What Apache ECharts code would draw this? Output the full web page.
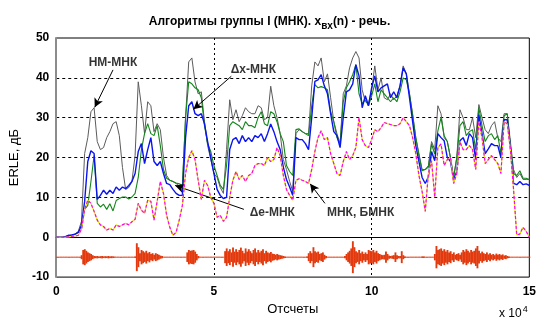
<!DOCTYPE html>
<html>
<head>
<meta charset="utf-8">
<script src="https://cdn.jsdelivr.net/npm/echarts@6/dist/echarts.min.js"></script>
<style>
  html, body { margin: 0; padding: 0; background: #fff; }
  #chart { width: 539px; height: 321px; }
</style>
</head>
<body>
<div id="chart"></div>
<script>
// ERLE curves, dB, sampled every 0.1 (x 10^4 samples)
const curveStep = 0.1;

// НМ-МНК
const nmMnk = [
  0, 0, 0, 0.2, 0.4, 0.6, 0.8, 1.5, 4, 21,
  25, 31.5, 32.5, 24, 22, 22.5, 25, 26.5, 28.5, 29,
  25.5, 17.5, 12, 12.5, 14, 20.5, 39, 33, 26, 34,
  33, 26.5, 28.5, 27, 20, 15.5, 14.3, 14, 13.5, 12.8,
  12.5, 30, 44, 45, 39, 36, 36.5, 29, 23, 19.5,
  16, 15, 12.5, 11, 22, 34.5, 29.5, 32, 29, 30.5,
  32.5, 31.5, 31, 31, 33, 32.5, 29.5, 30, 37.9, 33,
  30, 26, 19.5, 17, 14, 11.5, 26, 27, 26.5, 26,
  26, 38, 44, 43, 45, 39, 41, 35, 29, 26,
  23.5, 36, 38, 42.5, 45, 46.6, 45, 37, 34, 33.5,
  37, 43, 37, 40, 35, 34.5, 36, 34.5, 35.5, 38,
  43, 41, 36, 31, 25, 21, 17, 17, 18, 24,
  22, 33, 31, 25, 24, 20, 15, 20, 32, 30,
  27, 27, 30, 25, 33.3, 30, 27, 26, 28, 29,
  25, 24, 31, 31, 24, 17, 15, 16, 14.5, 14.5,
  14.5
];

// Δe-МНК
const deMnk = [
  0, 0, 0, 0.1, 0.3, 0.5, 0.8, 1.2, 2, 7,
  8, 14, 20.5, 8.5, 7.6, 8.3, 7, 8.4, 6.6, 9.2,
  9.7, 10.1, 10.1, 9.6, 10.1, 11, 15, 22, 26, 28.5,
  26, 25.5, 28, 23, 17, 14.8, 14.3, 14, 13.6, 13.4,
  13, 30, 39, 38.5, 37.5, 37, 35, 28, 23.5, 21.5,
  18, 15.5, 13, 12, 18, 28, 29, 28.5, 28, 27,
  29, 28, 28, 27.5, 30, 31.5, 28.5, 28, 31.5, 31,
  29, 26, 24, 18, 16.5, 15.5, 27, 27.2, 26.5, 26,
  25.5, 33, 38.3, 37.5, 37.8, 37.5, 37, 31.5, 29, 25,
  23.4, 34, 37.5, 39, 40.8, 43.3, 36, 33.5, 34.5, 33,
  35.5, 38.5, 34, 37, 36, 35, 34, 35, 34, 36.5,
  40, 39.5, 36, 30.5, 25, 20.5, 16.7, 17, 17.6, 23.4,
  20.9, 26.7, 30, 25.5, 24, 20, 15, 20, 28, 29,
  25.5, 26.5, 27, 22, 32.5, 28, 24, 25.5, 26, 24.5,
  25.5, 21, 30.5, 31, 23, 16, 15.5, 16.7, 14.8, 14.8,
  14.5
];

// Δx-МНК
const dxMnk = [
  0, 0, 0, 0.2, 0.5, 0.6, 0.8, 1.2, 3, 9,
  19, 21.7, 21, 9.5, 10.5, 11.8, 10.8, 11.8, 11, 12.6,
  11.8, 12.6, 12.2, 13, 14, 16, 21.5, 23.5, 18.5, 22,
  25, 19, 18, 19, 16, 13.5, 13.2, 12, 11, 10.5,
  10.5, 25, 33, 34, 31, 30.5, 31, 28.5, 24, 20,
  16, 12, 10.5, 9.7, 10, 22, 24.5, 25, 23.5, 25.5,
  24, 25, 24, 25.5, 25, 26, 24, 26, 28.4, 26.5,
  24, 22, 17.6, 14.5, 12.6, 10.5, 25, 24.5, 24.5, 23.5,
  22, 30, 39.1, 39.5, 40.8, 38, 36, 31, 26.5, 25.5,
  22.5, 30, 36.5, 37, 38.5, 43.3, 40.5, 32.5, 35.5, 33,
  37.5, 40.5, 36.5, 37.5, 38, 38.5, 35, 36.5, 35, 38,
  42.5, 41, 35, 29, 23, 19, 15, 13.5, 15.2, 21.5,
  19.2, 26, 25, 24.2, 20, 19, 14.5, 16.5, 24.2, 25,
  23, 26, 25, 19.5, 30.8, 26, 21, 22.2, 23.5, 23,
  23, 20, 29.5, 29.5, 22.5, 13.5, 13.2, 14, 13.2, 13.4,
  13
];

// МНК, БМНК (the two curves coincide)
const mnkBmnk = [
  0, 0, 0, 0, 0.1, 0.2, 0.3, 0.5, 2, 7,
  9.3, 8.5, 6.5, 4.3, 3.1, 2.7, 1.8, 2.2, 1.8, 3.1,
  2.7, 3.1, 3.5, 3.1, 3.9, 4.5, 8.5, 6.8, 6, 9.3,
  9, 4.3, 9, 14, 11, 5.5, 2.5, 0.5, 1.2, 4.3,
  8, 16, 20, 21.7, 19.5, 14.3, 9.5, 14.3, 13, 10,
  8.5, 5, 5.5, 4, 5, 10, 14.3, 16.5, 14.5, 15.5,
  14, 15.5, 16, 18, 18.5, 18.5, 18, 20, 19, 19.5,
  22.5, 20.5, 15.5, 12, 10.5, 9.3, 14.3, 14.7, 14.3, 14,
  13.5, 17, 21.5, 25, 26.7, 24.5, 25, 21, 18.5, 16,
  15.5, 19, 21.5, 19.5, 20.5, 22.5, 30, 24.5, 23, 22.5,
  24.5, 27, 26.5, 27.5, 28.8, 28.5, 28.3, 28, 28, 28.5,
  30, 29, 28, 25, 21, 15.5, 11.5, 6.5, 16, 19.2,
  10.1, 22.5, 23.4, 18, 19.5, 20, 13.5, 16, 24, 22,
  22, 23, 22, 17, 29, 25, 18.5, 19.5, 20.5, 19.5,
  18.5, 16, 29, 28.5, 22, 12, 0.6, 0.8, 2.5, 1.5,
  0
];

// Speech input x_вх(n): envelope half-height (dB units), every 0.05, around its offset level
const speechStep = 0.05;
const speechLevel = -5;
const speechEnv = [
  .12,.12,.12,.12,.12,.12,.12,.12,.12,.12,.12,.12,.12,.12,.12,.12,.5,1.8,2.0,1.6,
  1.2,1.0,.8,.5,.3,.25,.3,.2,.25,.3,.2,.25,.2,.3,.2,.25,.2,.15,.12,.12,
  .12,.12,.12,.12,.12,.12,.12,.12,.12,.12,.2,3.5,2.5,1.0,1.8,1.5,1.2,1.6,1.0,1.3,
  .8,1.0,.6,1.0,.8,.6,.4,.3,.12,.12,.12,.12,.12,.12,.12,.12,.12,.12,.12,.12,
  .12,.12,.12,1.2,1.8,1.6,1.7,1.8,1.4,.8,.3,.12,.12,.12,.12,.12,.12,.12,.12,.12,
  .12,.12,.12,.12,.12,.12,.12,1.5,2.2,1.5,2.0,1.2,2.4,1.4,2.0,1.3,1.8,2.4,1.6,1.0,
  2.2,1.4,2.0,1.5,1.0,1.8,2.2,1.2,1.8,1.2,1.6,2.0,1.0,1.6,1.2,1.0,1.3,.9,.8,.6,
  .8,.6,.5,.4,.3,.2,.12,.12,.12,.12,.12,.12,.12,.12,.12,.12,.12,.12,.12,.2,
  1.0,1.5,1.0,2.5,1.5,1.2,1.4,.8,1.0,1.2,.6,.3,.12,.12,.12,.12,.12,.12,.12,.12,
  .12,.12,.12,.3,.8,1.2,1.6,2.2,4.0,2.5,1.5,1.2,1.8,1.0,1.4,.8,1.2,.8,1.8,1.6,
  1.5,1.8,1.2,1.6,1.0,.8,.6,.5,.6,1.4,.8,.4,.3,.4,.5,1.2,.5,.3,.3,1.5,
  .5,.2,.12,.12,.12,.12,.12,.12,.12,.12,.12,.12,.2,.2,.12,.12,.12,.12,.12,.12,
  .8,2.8,1.8,2.0,2.2,1.6,2.0,1.4,1.8,1.2,1.5,.8,1.2,.6,.8,1.0,.6,1.2,1.8,1.4,
  2.0,1.6,1.2,1.8,1.4,1.6,2.2,2.8,1.6,1.0,1.4,1.0,.8,1.2,.7,1.0,.6,.8,.5,.9,
  .6,.8,.5,.7,.4,.5,.3,.2,.12,.12,.12,.12,.12,.12,.12,.12,.12,.12,.12,.12,
  .12
];

// Axis ticks
const xTicks = [0, 5, 10, 15];
const yTicks = [-10, 0, 10, 20, 30, 40, 50];

// Text labels with their arrow (label point, arrow start, arrow tip)
const notes = [
  { text: 'НМ-МНК',    at: [1.8, 43.9],  from: [1.8, 42],   to: [1.22, 32.6] },
  { text: 'Δx-МНК',    at: [6.25, 42],   from: [5.55, 40.4], to: [4.35, 32.1] },
  { text: 'Δe-МНК',    at: [6.85, 6.1],  from: [5.95, 7.0],  to: [3.77, 13] },
  { text: 'МНК, БМНК', at: [9.65, 6.1],  from: [8.52, 8.5],  to: [8.05, 13.4] }
];

const FONT = '"Liberation Sans", Arial, sans-serif';

function toPoints(values, dx) {
  return values.map((v, i) => [Math.round(i * dx * 100) / 100, v]);
}

function curve(name, values, color, width, dash, z) {
  return {
    name, type: 'line', data: toPoints(values, curveStep),
    showSymbol: false, symbol: 'none', smooth: false, z,
    lineStyle: { color, width, type: dash || 'solid' },
    emphasis: { disabled: true }, animation: false
  };
}

const chart = echarts.init(document.getElementById('chart'), null, { renderer: 'canvas' });

chart.setOption({
  animation: false,
  backgroundColor: '#fff',
  title: {
    text: 'Алгоритмы группы I (МНК). x{sub|вх}(n) - речь.',
    left: 'center', top: 8,
    textStyle: {
      fontFamily: FONT, fontSize: 12, fontWeight: 'bold', color: '#000',
      rich: { sub: { fontFamily: FONT, fontSize: 10, fontWeight: 'bold', color: '#000', padding: [8, 0, 0, 0] } }
    }
  },
  grid: {
    left: 53, right: 7, top: 38, bottom: 42,
    show: true, borderColor: '#000', borderWidth: 1, backgroundColor: '#fff'
  },
  xAxis: {
    type: 'value', min: xTicks[0], max: xTicks[xTicks.length - 1], interval: 5,
    name: 'Отсчеты', nameLocation: 'middle', nameGap: 24,
    nameTextStyle: { fontFamily: FONT, fontSize: 13, color: '#000' },
    axisLine: { show: true, lineStyle: { color: '#000', width: 1 } },
    axisTick: { show: false },
    axisLabel: { fontFamily: FONT, fontSize: 12, fontWeight: 'bold', color: '#000', margin: 9 },
    splitLine: { show: true, showMinLine: false, showMaxLine: false,
                 lineStyle: { color: '#000', width: 1, type: [2, 3] } }
  },
  yAxis: {
    type: 'value', min: yTicks[0], max: yTicks[yTicks.length - 1], interval: 10,
    name: 'ERLE, дБ', nameLocation: 'middle', nameGap: 30, nameRotate: 90,
    nameTextStyle: { fontFamily: FONT, fontSize: 13, color: '#000' },
    axisLine: { show: true, lineStyle: { color: '#8c8c8c', width: 2 } },
    axisTick: { show: false },
    axisLabel: { fontFamily: FONT, fontSize: 12, fontWeight: 'bold', color: '#000', margin: 7 },
    splitLine: { show: true, showMinLine: false, showMaxLine: false,
                 lineStyle: { color: '#000', width: 1, type: [3, 3] } }
  },
  graphic: [{
    type: 'text', left: 499, top: 305, z: 10,
    style: {
      text: 'x 10{sup|4}', fontFamily: FONT, fontSize: 12, fill: '#000',
      rich: { sup: { fontFamily: FONT, fontSize: 9, fill: '#000', padding: [0, 0, 9, 1] } }
    }
  }],
  series: [
    curve('НМ-МНК', nmMnk, '#5c5c5c', 1, null, 2),
    curve('Δe-МНК', deMnk, '#13861a', 1.1, null, 3),
    curve('Δx-МНК', dxMnk, '#0a14f0', 1.4, null, 4),
    curve('БМНК', mnkBmnk, '#e6e600', 1.2, null, 5),
    curve('МНК', mnkBmnk, '#ff00ff', 1.2, [3, 2], 6),
    {
      name: 'x_вх', type: 'custom', clip: true, z: 3,
      data: toPoints(speechEnv, speechStep),
      renderItem: function (params, api) {
        const x = api.value(0), a = api.value(1);
        const p1 = api.coord([x - speechStep / 2, speechLevel + a]);
        const p2 = api.coord([x + speechStep / 2, speechLevel - a]);
        return {
          type: 'rect',
          shape: { x: p1[0], y: p1[1], width: p2[0] - p1[0] + 0.3, height: p2[1] - p1[1] },
          style: { fill: '#e23a0e' }
        };
      }
    },
    {
      name: 'notes', type: 'scatter', symbolSize: 0, z: 8, silent: true,
      data: notes.map(n => ({ name: n.text, value: n.at })),
      label: {
        show: true, position: 'inside', formatter: '{b}',
        fontFamily: FONT, fontSize: 12, fontWeight: 'bold', color: '#000'
      },
      markLine: {
        silent: true, animation: false, symbol: ['none', 'arrow'], symbolSize: [7, 9],
        label: { show: false },
        lineStyle: { color: '#000', width: 1, type: 'solid' },
        data: notes.map(n => [{ coord: n.from }, { coord: n.to }])
      }
    }
  ]
});
</script>
</body>
</html>
